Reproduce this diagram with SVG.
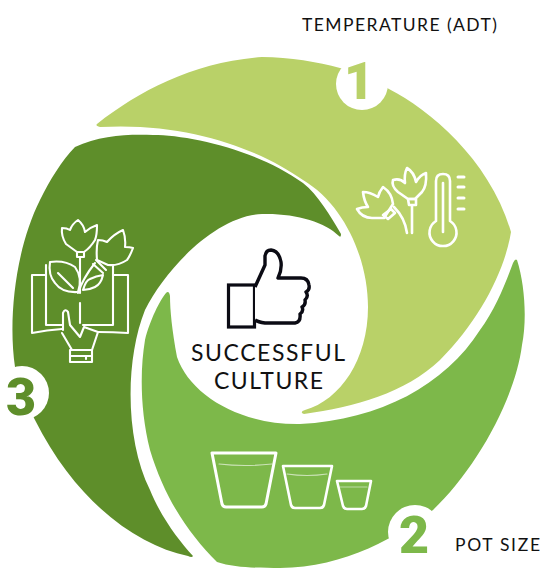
<svg xmlns="http://www.w3.org/2000/svg" width="541" height="568" viewBox="0 0 541 568">
<style>
.lbl{font-family:"Lato","Liberation Sans",sans-serif;fill:#111;font-weight:400}
.num{font-family:"Roboto","Liberation Sans",sans-serif;font-weight:900;font-size:52px;text-anchor:middle}
.ic{fill:none;stroke:#fff;stroke-width:2.600;stroke-linejoin:round;stroke-linecap:round}
.badge{fill:#fff}
</style>
<rect width="541" height="568" fill="#fff"/>
<g id="segment-1">
<path fill="#B9D168" d="M97,124 C140,90 195,62 262,57 C290,57 318,62 340,68 C360,72 375,80 389,89 C430,110 490,160 511,232 C505,270 480,320 440,360 C405,393 355,407 304,414 Q299,412 305,410 C340,400 368,360 368,307 C368,260 345,205 303,180 C260,150 190,122 100,127 Q95,126 97,124 Z"/>
<circle class="badge" cx="362" cy="84" r="26"/>
<text class="num" x="359" y="99" fill="#B9D168">1</text>
<g class="ic">
<path d="M436,221 V181 Q436,174 443,174 Q450,174 450,181 V221 A13.500,13.500 0 1 1 436,221 Z"/>
<path d="M443,183 V232"/>
<path stroke-width="3" d="M458,177 H464 M458,187 H464 M458,198 H464 M458,209 H464"/>
<path d="M408,199 L398,192 Q391,186 393,180 Q400,178 405,183 Q404,174 407,168 Q414,172 416,182 Q420,175 426,173 Q427,186 422,192 L415,199 Z"/>
<path d="M408,199 H416 V205 H409 Z M412,205 V233"/>
<path d="M393,204 Q392,193 383,187 Q379,192 378,197 Q370,192 363,192 Q364,201 368,207 Q362,207 357,209 Q362,218 372,218 L384,218 Z"/>
<path d="M383,215 L391,209 L395,213 L388,219 Z"/>
<path d="M394,207 Q405,218 407,233"/>
</g>
</g>
<g id="segment-2">
<path fill="#7DB84A" d="M517,260 C525,285 527,320 522,345 C515,400 475,470 433,510 C400,535 345,568 280,568 C260,568 235,568 217,562 C190,535 165,500 150,450 C140,410 140,370 145,340 C150,320 160,300 166,293 Q169,290 170,296 C170,310 172,330 177,357 C190,395 240,425 300,424 C380,420 445,385 480,330 C495,310 505,285 513,263 Q515,258 517,260 Z"/>
<circle class="badge" cx="415" cy="532" r="27"/>
<text class="num" x="414" y="553" fill="#7DB84A">2</text>
<g class="ic">
<path stroke-width="3" d="M212,453 H276 L266,504 Q265,507 262,507 H226 Q223,507 222,504 Z"/>
<path stroke-width="1.200" stroke-opacity=".6" d="M219,464 Q245,467 272,464"/>
<path d="M283,466 H332 L324,505 Q323,508 320,508 H295 Q292,508 291,505 Z"/>
<path stroke-width="1.200" stroke-opacity=".6" d="M287,474 Q307,477 327,474"/>
<path d="M337,481 H371 L366,506 Q365,509 362,509 H347 Q344,509 343,506 Z"/>
<path stroke-width="1.200" stroke-opacity=".5" d="M340,487 H367"/>
</g>
</g>
<g id="segment-3">
<path fill="#5E8E2A" d="M339,236 C325,222 295,213 262,214 C215,216 165,270 145,310 C125,360 125,440 150,490 C160,515 178,540 193,556 Q192,558 188,556 C135,545 75,500 35,420 C25,400 18,385 15,367 C8,320 15,250 40,200 C50,180 62,160 75,147 C100,135 130,134 153,135 C190,135 257,150 303,183 C318,195 330,215 341,234 Q341,238 339,236 Z"/>
<circle class="badge" cx="22" cy="393" r="27"/>
<text class="num" x="21" y="415" fill="#5E8E2A">3</text>
<g class="ic" style="stroke-width:2.100">
<path d="M46,275 H32 V333 Q47,330 62,329 M46,265 V325 H62"/>
<path d="M113,275 H128 V333 Q113,332 98,332 M113,265 V325 H83"/>
<path d="M80,303 V323"/>
<path d="M63,330 V313 Q65,308 68,312 L70,325 L80,337 L84,327 L98,332 L92,350 H72 L62,333"/>
<path d="M70,350 H92 V362 H70 Z M70,356 H92 M86,356 V359"/>
<path d="M77,252 L66,244 Q61,236 62,228 Q67,228 70,230 Q72,224 78,220 Q84,225 85,232 Q91,227 97,225 Q97,235 95,240 Q90,248 84,252 Z"/>
<path d="M77,252 H84 V257 H77 Z M80,257 V293"/>
<path d="M97,260 Q96,248 98,240 Q103,240 107,242 Q114,234 123,230 Q126,238 125,247 Q130,247 133,248 Q130,256 127,260 Q118,266 108,265 Z"/>
<path d="M96,260 L106,270 M93,264 L103,273"/>
<path d="M95,263 Q83,278 78,293"/>
<path d="M78,292 Q62,293 55,283 Q48,275 50,262 Q65,260 75,267 Q83,278 78,292 Z"/>
<path d="M58,273 L73,288"/>
<path d="M83,290 Q86,280 90,279 Q96,276 103,275 Q101,284 95,287 Q89,290 83,290 Z"/>
</g>
</g>
<g id="center">
<rect x="228.500" y="285" width="26" height="42" fill="#fff" stroke="#0b0b14" stroke-width="3.200"/>
<path fill="#fff" stroke="#0b0b14" stroke-width="3.400" stroke-linejoin="round" d="M255,287 L265,265 V256 Q266,250 271,250 Q279,251 281,262 Q282,270 278,278 H301 Q308,278 309,285 Q310,290 306,292 Q309,296 305,300 Q306,305 302,307 Q304,311 300,314 Q301,322 295,323 H265 Q258,322 255,320"/>
<text class="lbl" x="191" y="361" font-size="23" textLength="154">SUCCESSFUL</text>
<text class="lbl" x="214" y="389" font-size="23" textLength="109">CULTURE</text>
</g>
<g id="label-temperature"><text class="lbl" x="302" y="31" font-size="17.500" textLength="195">TEMPERATURE (ADT)</text></g>
<g id="label-pot-size"><text class="lbl" x="455" y="551" font-size="17.500" textLength="85">POT SIZE</text></g>
</svg>
